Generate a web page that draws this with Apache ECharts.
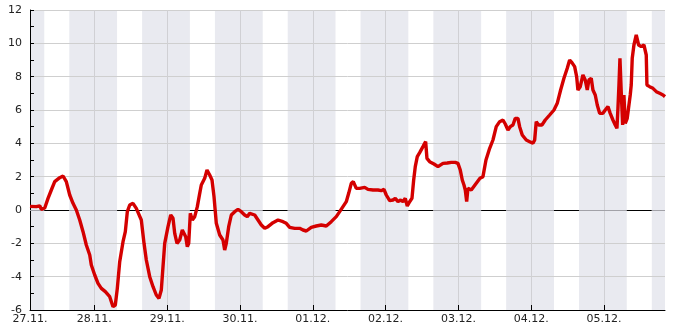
<!DOCTYPE html>
<html>
<head>
<meta charset="utf-8">
<script src="https://cdn.jsdelivr.net/npm/echarts@6/dist/echarts.min.js"></script>
<style>html,body{margin:0;padding:0;background:#fff;}#c{width:685px;height:330px;}</style>
</head>
<body>
<div id="c"></div>
<script>
// hours since 27.11. 00:00
const hours = [2.8,3.24,4.89,6.0,6.53,7.66,8.74,9.83,10.95,12.6,13.69,14.77,15.89,16.98,18.07,19.19,20.28,21.36,22.49,23.01,24.13,25.22,26.31,27.63,29.08,30.16,30.92,31.58,32.37,33.46,34.22,34.88,35.67,36.75,37.84,38.4,39.49,40.38,41.14,42.26,43.35,44.43,45.32,46.08,46.64,47.2,48.29,49.18,49.94,50.5,51.26,52.14,53.0,53.56,54.12,54.65,55.11,55.64,56.3,57.09,57.95,58.74,59.26,59.82,60.38,61.14,62.03,62.79,63.45,64.21,65.33,66.41,66.97,67.5,68.29,69.15,70.27,71.36,72.44,73.56,74.42,75.21,75.74,76.86,77.95,79.04,80.16,81.24,82.89,84.54,86.19,87.27,88.39,90.04,91.69,92.78,93.87,95.51,97.16,98.81,100.46,102.1,103.75,104.87,105.96,107.05,107.84,108.7,109.36,110.34,111.46,111.99,113.11,114.2,115.85,117.49,118.58,119.47,120.23,121.35,122.44,123.2,124.09,124.98,125.73,126.49,127.15,127.94,128.7,129.26,129.79,130.45,131.24,132.32,133.21,133.64,134.53,135.95,137.27,138.92,140.33,141.65,142.97,143.86,144.62,145.28,145.84,146.27,146.73,147.15,148.24,149.46,151.11,152.1,153.09,154.31,155.39,156.48,157.6,158.69,159.45,160.34,161.1,161.98,162.74,163.63,164.19,165.05,166.37,167.49,168.58,169.14,169.66,170.45,171.54,172.63,174.08,175.5,176.58,177.7,178.79,179.88,180.67,181.43,182.32,182.98,183.4,184.16,185.05,185.81,186.47,187.03,187.79,188.35,189.11,189.77,190.56,191.64,192.4,193.29,194.05,194.94,195.7,196.26,196.59,196.92,197.25,197.67,198.14,198.56,199.0,199.65,200.11,200.64,200.97,201.3,201.86,202.62,203.41,204.27,205.16,205.92,206.15,207.04,208.13,209.24,210.35,211.44,212.1];
const temps = [0.22,0.26,0.2,0.25,0.04,0.12,0.7,1.2,1.7,1.94,2.04,1.7,0.9,0.4,0,-0.6,-1.3,-2.1,-2.7,-3.3,-3.9,-4.4,-4.7,-4.9,-5.2,-5.8,-5.7,-4.7,-3.1,-1.9,-1.3,-0.1,0.3,0.4,0.1,0,-0.6,-2.0,-3.0,-4.0,-4.6,-5.1,-5.3,-4.8,-3.4,-2.0,-1.0,-0.3,-0.5,-1.4,-2.0,-1.8,-1.2,-1.1,-1.6,-2.2,-2.0,-0.2,-0.6,-0.4,0.2,1.0,1.5,1.4,1.9,2.4,2.1,1.8,0.8,-0.8,-1.5,-1.8,-2.4,-2.0,-1.0,-0.3,-0.1,0.04,-0.1,-0.3,-0.4,-0.2,-0.1,-0.3,-0.6,-0.9,-1.1,-1.0,-0.76,-0.6,-0.7,-0.8,-1.04,-1.1,-1.1,-1.2,-1.26,-1.04,-0.96,-0.9,-0.96,-0.7,-0.4,-0.1,0.2,0.5,1.0,1.6,1.7,1.3,1.3,1.36,1.36,1.24,1.2,1.2,1.16,1.24,0.9,0.56,0.6,0.7,0.5,0.6,0.5,0.7,0.24,0.5,0.7,1.8,2.6,3.2,3.44,3.8,4.1,3.1,2.9,2.76,2.6,2.8,2.82,2.86,2.86,2.8,2.4,1.8,1.5,1.2,0.5,1.3,1.2,1.5,1.9,2.0,3.0,3.7,4.2,5.0,5.3,5.4,5.16,4.8,5.0,5.1,5.5,5.5,5.0,4.5,4.2,4.1,4.0,4.2,5.3,5.1,5.1,5.4,5.7,6.0,6.4,7.2,7.9,8.5,9.0,8.84,8.6,8.0,7.2,7.4,8.1,7.8,7.2,7.8,7.9,7.2,6.9,6.3,5.8,5.8,6.0,6.2,5.8,5.4,5.1,4.9,6.1,7.5,9.1,7.1,5.1,6.9,5.2,5.5,5.4,6.9,7.5,9.1,9.9,10.5,9.9,9.8,9.9,9.3,7.5,7.4,7.3,7.1,7.0,6.9,6.8];

const dayLabels = ['27.11.','28.11.','29.11.','30.11.','01.12.','02.12.','03.12.','04.12.','05.12.'];
const midnights = [24,48,72,96,120,144,168,192];
const xStart = 2.8, xEnd = 212.1;
// night periods (shaded), hours since 27.11. 00:00
const nights = [[2.8,7.5],[15.75,31.5],[39.75,55.5],[63.75,79.5],[87.75,103.5],[111.75,127.5],[135.75,151.5],[159.75,175.5],[183.75,199.5],[207.75,212.1]];
const yTicks = [-6,-4,-2,0,2,4,6,8,10,12];

const lineData = hours.map((h,i)=>[h,temps[i]]);

// zero line: black by day, grey inside night bands
const zeroSegs = [];
let cur = xStart;
nights.forEach(n => {
  if (n[0] > cur) zeroSegs.push([{coord:[cur,0],lineStyle:{color:'#000'}},{coord:[n[0],0]}]);
  zeroSegs.push([{coord:[n[0],0],lineStyle:{color:'#a2a2a8'}},{coord:[n[1],0]}]);
  cur = n[1];
});
if (cur < xEnd) zeroSegs.push([{coord:[cur,0],lineStyle:{color:'#000'}},{coord:[xEnd,0]}]);

const font = 'DejaVu Sans';
const chart = echarts.init(document.getElementById('c'), null, {renderer:'canvas'});
chart.setOption({
  animation: false,
  grid: {left:30, right:20, top:10, bottom:20, containLabel:false},
  xAxis: {
    type:'value', min:xStart, max:xEnd,
    axisLine:{show:true, onZero:false, lineStyle:{color:'#000', width:1}},
    axisTick:{show:true, inside:true, length:5, customValues:midnights, lineStyle:{color:'#000'}},
    axisLabel:{customValues:[xStart].concat(midnights), margin:4, fontSize:11, fontFamily:font, color:'#222',
      formatter:v => v < 24 ? dayLabels[0] : dayLabels[Math.round(v/24)]},
    splitLine:{show:true, lineStyle:{color:'#d0d0d4', width:1}}
  },
  yAxis: {
    type:'value', min:yTicks[0], max:yTicks[yTicks.length-1], interval:2,
    axisLine:{show:true, lineStyle:{color:'#000', width:1}},
    axisTick:{show:true, inside:true, length:4, lineStyle:{color:'#000'}},
    minorTick:{show:true, splitNumber:2, length:4, lineStyle:{color:'#000'}},
    axisLabel:{margin:8, fontSize:11, fontFamily:font, color:'#222'},
    splitLine:{show:true, lineStyle:{color:'#cfcfcf', width:1}}
  },
  series: [
    {
      type:'line', data:[], silent:true,
      markArea:{silent:true, z:-1, itemStyle:{color:'#e9eaf0'},
        data: nights.map(n => [{xAxis:n[0], yAxis:yTicks[0]},{xAxis:n[1], yAxis:yTicks[yTicks.length-1]}])}
    },
    {
      type:'line', data:[], silent:true,
      markLine:{silent:true, z:1, symbol:'none', label:{show:false}, lineStyle:{width:1, type:'solid'},
        emphasis:{disabled:true}, data: zeroSegs}
    },
    {
      type:'line', data:lineData, showSymbol:false, z:3,
      lineStyle:{color:'#d40000', width:3.4},
      itemStyle:{color:'#d40000'}
    }
  ]
});
</script>
</body>
</html>
